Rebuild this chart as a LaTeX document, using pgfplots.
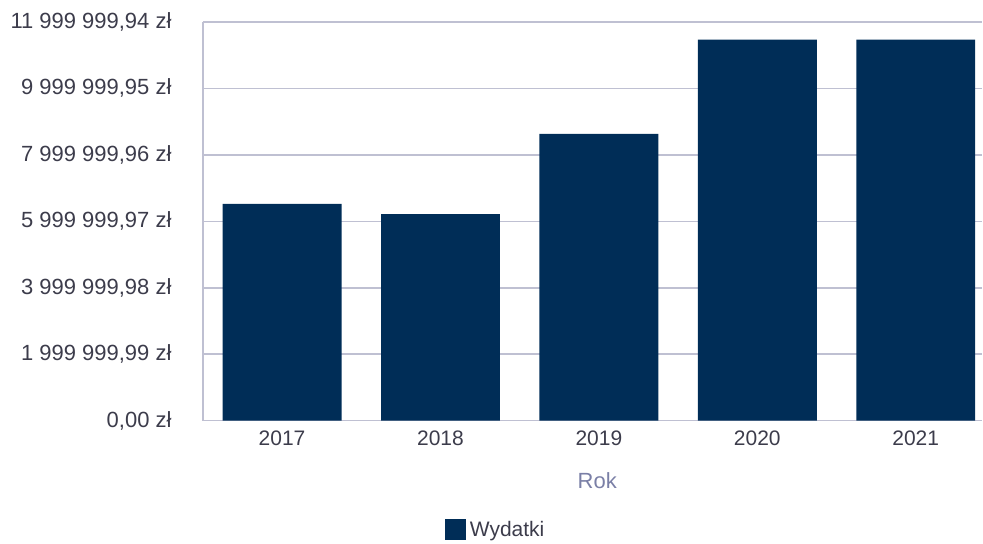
\documentclass[border=0pt]{standalone}
\usepackage{pgfplots}
\pgfplotsset{compat=1.18}
\usepackage{fontspec}
\setmainfont{Liberation Sans}

\definecolor{barblue}{RGB}{0,45,87}
\definecolor{gridc}{RGB}{191,192,210}
\definecolor{labc}{RGB}{60,60,75}
\definecolor{rokc}{RGB}{122,127,166}
\newcommand\lbl{\fontsize{10.5}{12.6}\selectfont}

\begin{document}
\begin{tikzpicture}
\begin{axis}[
    name=ax,
    scale only axis,
    width=390pt, height=199.5pt,
    ybar, bar width=59.5pt,
    xmin=-0.5, xmax=4.42,
    ymin=0, ymax=11999999.94,
    scaled y ticks=false,
    xtick=data,
    xticklabels={2017,2018,2019,2020,2021},
    ytick={0,1999999.99,3999999.98,5999999.97,7999999.96,9999999.95,11999999.94},
    yticklabels={{0,00 zł},{1 999 999,99 zł},{3 999 999,98 zł},{5 999 999,97 zł},{7 999 999,96 zł},{9 999 999,95 zł},{11 999 999,94 zł}},
    major tick length=0pt,
    axis x line*=bottom, axis y line*=left,
    axis line style={gridc, line width=0.75pt, -},
    ymajorgrids, grid style={gridc, line width=0.75pt},
    tick label style={font=\lbl, text=labc},
    yticklabel style={anchor=east, inner sep=0pt, xshift=-15.5pt, font=\fontsize{11}{13}\selectfont},
    xticklabel style={anchor=base, inner sep=0pt, yshift=-12.5pt},
    xlabel={Rok},
    xlabel style={at={(rel axis cs:0.506,0)}, anchor=base, yshift=-34pt, font=\fontsize{11}{13}\selectfont, text=rokc},
    legend style={at={(rel axis cs:0.377,-0.2757)}, anchor=center, draw=none, fill=none, font=\lbl, text=labc, inner sep=0pt},
    legend image code/.code={\fill[barblue] (0pt,-4.5pt) rectangle (10.5pt,6pt);},
]
\addplot[fill=barblue, draw=none, bar shift=0pt] coordinates {
    (0,6522000) (1,6220000) (2,8630000) (3,11470000) (4,11470000)
};
\addlegendentry{Wydatki}
\end{axis}
\path ([shift={(-101.5pt,-61.5pt)}]ax.south west) rectangle ([shift={(0pt,11pt)}]ax.north east);
\end{tikzpicture}
\end{document}
